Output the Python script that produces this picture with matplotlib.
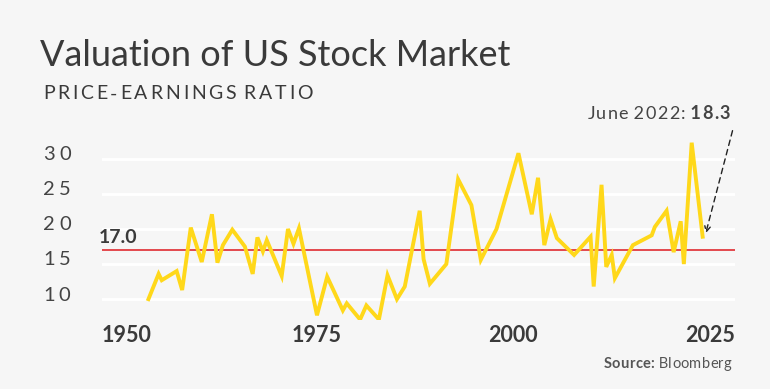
import matplotlib.pyplot as plt

# values
years = [
    1953.5, 1954.8, 1955.2, 1957.1, 1957.8, 1958.9, 1960.3, 1961.6, 1962.3, 1963.0,
    1964.2, 1965.8, 1966.8, 1967.4, 1968.1, 1968.6, 1970.5, 1971.3, 1972.0, 1972.7,
    1975.0, 1976.3, 1978.3, 1978.8, 1980.5, 1981.3, 1982.9, 1984.0, 1985.2, 1986.2,
    1988.1, 1988.6, 1989.4, 1991.5, 1993.0, 1994.7, 1995.9, 1997.9, 2000.7, 2002.4,
    2003.2, 2004.0, 2004.8, 2005.6, 2007.8, 2009.9, 2010.3, 2011.3, 2011.9, 2012.6,
    2013.0, 2015.3, 2017.7, 2018.1, 2019.6, 2020.5, 2021.4, 2021.8, 2022.8, 2024.2,
]
pe_ratio = [
    10.0, 13.6, 12.7, 14.0, 11.3, 20.2, 15.3, 22.1, 15.2, 17.7,
    19.9, 17.5, 13.6, 18.8, 16.8, 18.4, 13.3, 20.0, 17.9, 20.1,
    7.7, 13.2, 8.4, 9.4, 7.1, 9.1, 7.1, 13.4, 10.0, 11.8,
    22.6, 15.7, 12.2, 15.0, 27.1, 23.4, 15.6, 20.0, 30.8, 22.1,
    27.3, 17.7, 21.4, 18.7, 16.3, 18.9, 11.8, 26.3, 14.6, 16.3,
    13.0, 17.7, 19.1, 20.3, 22.6, 16.7, 21.1, 15.0, 32.3, 18.9,
]
average = 17.0
y_ticks = [10, 15, 20, 25, 30]
x_ticks = [1950, 1975, 2000, 2025]

BG = "#f6f6f6"
TEXT = "#3a3a3a"
FONT = "Lato"


def spaced_text(ax, x, y, parts, tracking, transform, **kw):
    """Left-aligned text on a baseline, drawn char by char with extra letter spacing."""
    chars = []
    for s, weight in parts:
        for ch in s:
            if chars and chars[-1][0].endswith(" "):
                chars[-1] = (chars[-1][0] + ch, weight)
            else:
                chars.append((ch, weight))
    first, weight = chars[0]
    prev = ax.text(x, y, first, transform=transform, ha="left", va="baseline",
                   fontweight=weight, **kw)
    for ch, weight in chars[1:]:
        prev = ax.annotate(ch, xy=(1, 0), xycoords=prev, xytext=(tracking, 0),
                           textcoords="offset points", ha="left", va="bottom",
                           fontweight=weight, **kw)
    return prev


fig = plt.figure(figsize=(7.7, 3.89), dpi=100, facecolor=BG)
ax = fig.add_axes([0.1325, 0.1774, 0.822, 0.4884], facecolor=BG)

ax.set_xlim(1947.58, 2028.32)
ax.set_ylim(7.03, 34.11)
for side in ax.spines.values():
    side.set_visible(False)
ax.set_xticks([])
ax.set_yticks([])

for v in y_ticks:
    ax.axhline(v, color="white", lw=2.0, zorder=1)
    spaced_text(ax, -0.0932, v - 0.2, [(str(v), "normal")], 3.0,
                ax.get_yaxis_transform(), fontsize=14.5, color="#444444", family=FONT)

# first and last year labels sit flush with the plot edges, as in the reference
for i, yr in enumerate(x_ticks):
    if i == 0:
        pos, ha = 0.0, "left"
    elif i == len(x_ticks) - 1:
        pos, ha = 1.0, "right"
    else:
        pos, ha = (yr - 1947.58) / (2028.32 - 1947.58), "center"
    ax.text(pos, -0.117, str(yr), transform=ax.transAxes,
            ha=ha, va="baseline", fontsize=15.5, fontweight="bold",
            color=TEXT, family=FONT)

ax.axhline(average, color="#e23a40", lw=1.3, zorder=2)
ax.text(-0.005, 18.05, f"{average:.1f}", transform=ax.get_yaxis_transform(),
        ha="left", va="baseline", fontsize=14, fontweight="bold", color=TEXT, family=FONT)

ax.plot(years, pe_ratio, color="#ffd81a", lw=2.8, solid_joinstyle="miter", zorder=3)

ax.annotate("", xy=(years[-1] + 0.3, pe_ratio[-1] + 0.1), xytext=(2028.1, 34.4),
            arrowprops=dict(arrowstyle="->", color="#222222", lw=1.0, linestyle=(0, (4, 3))),
            annotation_clip=False)

# header
fig.text(0.052, 0.830, "Valuation of US Stock Market", fontsize=26, color=TEXT,
         family=FONT, va="baseline")
spaced_text(ax, 0.0558, 0.7447, [("PRICE-EARNINGS RATIO", "normal")], 2.0,
            fig.transFigure, fontsize=14, color=TEXT, family=FONT)

spaced_text(ax, 0.7628, 0.6933, [("June 2022: ", "normal"), ("18.3", "bold")], 0.9,
            fig.transFigure, fontsize=13, color="#444444", family=FONT)

spaced_text(ax, 0.784, 0.0532, [("Source: ", "bold"), ("Bloomberg", "normal")], 0.2,
            fig.transFigure, fontsize=10.5, color="#555555", family=FONT)

fig.savefig("out.png", dpi=100, facecolor=BG)
